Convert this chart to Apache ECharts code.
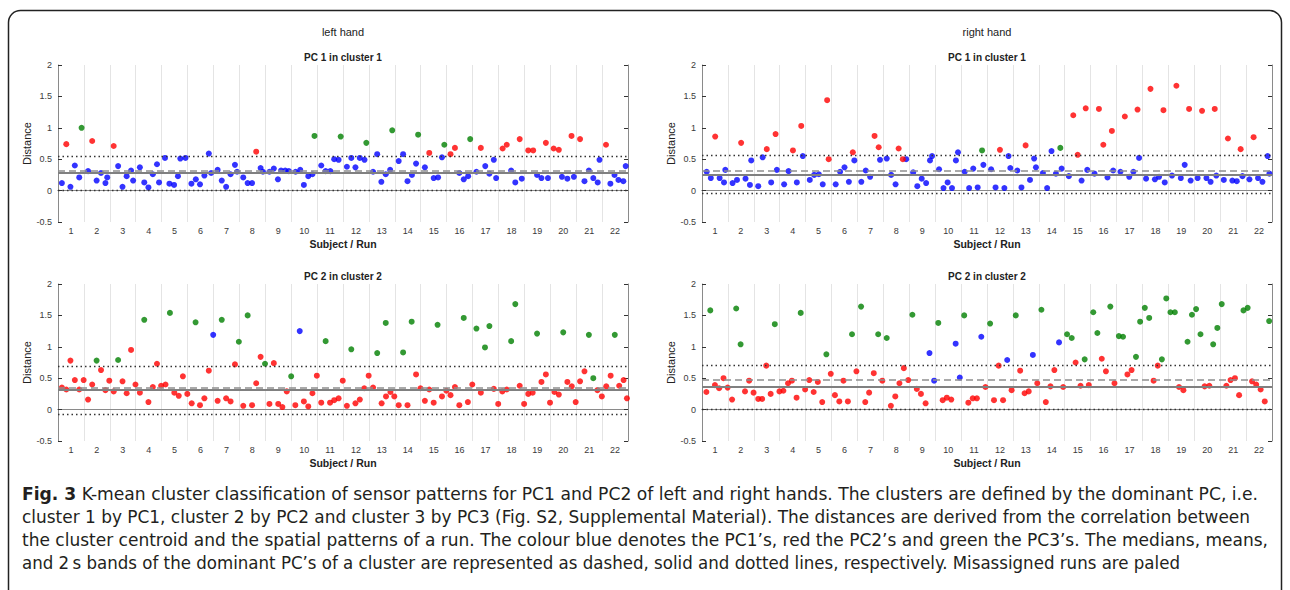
<!DOCTYPE html>
<html><head><meta charset="utf-8">
<script src="https://cdn.jsdelivr.net/npm/echarts@6/dist/echarts.min.js"></script>
<style>
html,body{margin:0;padding:0;background:#fff;}
#wrap{position:relative;width:1290px;height:590px;overflow:hidden;background:#fff;}
#chart{position:absolute;left:0;top:0;width:1290px;height:590px;}
#cap{position:absolute;left:0;top:0;pointer-events:none;}
</style></head><body>
<div id="wrap"><div id="chart"></div><svg id="cap" width="1290" height="590" xmlns="http://www.w3.org/2000/svg"></svg></div>
<script>
// ---------- tick labels ----------
const subjects = ['1','2','3','4','5','6','7','8','9','10','11','12','13','14','15','16','17','18','19','20','21','22'];
const sideTitles = ['left hand', 'right hand'];
const panelTitles = ['PC 1 in cluster 1', 'PC 1 in cluster 1', 'PC 2 in cluster 2', 'PC 2 in cluster 2'];

// ---------- left hand, PC1 in cluster 1 ----------
const lhPC1Blue = [[0.65,0.12],[0.98,0.06],[1.15,0.40],[1.32,0.21],[1.66,0.31],[1.99,0.16],[2.16,0.28],[2.33,0.12],[2.40,0.21],[2.82,0.39],[2.99,0.06],[3.15,0.23],[3.32,0.32],[3.40,0.16],[3.66,0.37],[3.83,0.13],[3.99,0.05],[4.16,0.26],[4.32,0.42],[4.40,0.13],[4.63,0.52],[4.80,0.11],[4.98,0.09],[5.13,0.23],[5.22,0.51],[5.42,0.52],[5.65,0.11],[5.82,0.18],[5.98,0.10],[6.15,0.24],[6.32,0.59],[6.41,0.28],[6.66,0.33],[6.82,0.16],[6.99,0.06],[7.16,0.26],[7.33,0.41],[7.41,0.30],[7.65,0.21],[7.82,0.12],[7.99,0.12],[8.32,0.36],[8.41,0.30],[8.66,0.30],[8.83,0.35],[8.99,0.18],[9.11,0.32],[9.27,0.32],[9.41,0.31],[9.67,0.30],[9.85,0.33],[9.99,0.09],[10.16,0.23],[10.32,0.26],[10.66,0.40],[10.83,0.31],[11.01,0.31],[11.16,0.50],[11.33,0.49],[11.65,0.38],[11.82,0.52],[11.98,0.37],[12.15,0.52],[12.33,0.49],[12.66,0.30],[12.82,0.58],[12.98,0.14],[13.15,0.26],[13.32,0.33],[13.65,0.47],[13.82,0.58],[13.99,0.15],[14.16,0.25],[14.32,0.43],[14.66,0.37],[15.00,0.20],[15.17,0.21],[15.32,0.53],[15.99,0.28],[16.16,0.18],[16.33,0.23],[16.65,0.30],[16.99,0.39],[17.15,0.27],[17.32,0.49],[17.41,0.20],[17.99,0.32],[18.15,0.13],[18.40,0.19],[18.99,0.25],[19.16,0.20],[19.41,0.20],[19.95,0.22],[20.16,0.19],[20.41,0.22],[20.82,0.15],[20.99,0.32],[21.16,0.20],[21.33,0.13],[21.40,0.49],[21.82,0.11],[21.98,0.25],[22.13,0.17],[22.32,0.15],[22.41,0.39]];
const lhPC1Red = [[0.82,0.74],[1.82,0.79],[2.65,0.71],[8.15,0.62],[14.83,0.60],[15.65,0.58],[15.82,0.68],[16.82,0.68],[17.66,0.67],[17.82,0.73],[18.32,0.82],[18.65,0.64],[18.84,0.64],[19.33,0.76],[19.63,0.67],[19.83,0.65],[20.32,0.87],[20.65,0.82],[21.65,0.73]];
const lhPC1Green = [[1.41,1.00],[10.40,0.87],[11.41,0.86],[12.40,0.76],[13.40,0.96],[14.40,0.89],[15.41,0.73],[16.41,0.82]];
const lhPC1Stats = [0.31, 0.28, 0.55, 0.0]; // median, mean, +2s, -2s

// ---------- right hand, PC1 in cluster 1 ----------
const rhPC1Blue = [[0.68,0.30],[0.84,0.20],[1.18,0.20],[1.35,0.13],[1.40,0.33],[1.68,0.12],[1.85,0.17],[2.18,0.19],[2.35,0.09],[2.40,0.48],[2.67,0.07],[2.84,0.53],[3.17,0.13],[3.39,0.33],[3.67,0.10],[3.84,0.31],[4.16,0.13],[4.39,0.55],[4.66,0.17],[4.83,0.25],[5.01,0.26],[5.16,0.10],[5.66,0.10],[5.83,0.30],[6.00,0.37],[6.17,0.14],[6.38,0.48],[6.65,0.14],[6.82,0.32],[6.99,0.22],[7.37,0.49],[7.63,0.51],[7.80,0.25],[7.97,0.10],[8.38,0.50],[8.65,0.29],[8.81,0.07],[8.98,0.19],[9.15,0.12],[9.30,0.48],[9.38,0.55],[9.65,0.34],[9.82,0.04],[9.98,0.13],[10.15,0.04],[10.30,0.48],[10.38,0.61],[10.64,0.30],[10.81,0.04],[10.97,0.35],[11.14,0.05],[11.36,0.41],[11.66,0.34],[11.83,0.05],[12.17,0.04],[12.33,0.55],[12.40,0.36],[12.67,0.32],[12.83,0.05],[13.16,0.17],[13.32,0.51],[13.39,0.37],[13.66,0.28],[13.82,0.04],[13.99,0.63],[14.16,0.27],[14.38,0.35],[14.66,0.23],[15.15,0.16],[15.37,0.33],[15.65,0.27],[16.15,0.21],[16.37,0.32],[16.65,0.30],[16.99,0.22],[17.15,0.30],[17.37,0.52],[17.64,0.19],[17.98,0.18],[18.14,0.22],[18.36,0.13],[18.64,0.24],[18.98,0.20],[19.13,0.41],[19.36,0.16],[19.63,0.20],[19.97,0.20],[20.13,0.14],[20.35,0.24],[20.64,0.17],[20.97,0.16],[21.14,0.15],[21.36,0.23],[21.63,0.18],[21.96,0.20],[22.13,0.14],[22.33,0.55],[22.40,0.27]];
const rhPC1Red = [[1.01,0.86],[2.01,0.76],[3.00,0.66],[3.34,0.90],[4.01,0.64],[4.33,1.03],[5.33,1.44],[5.39,0.50],[6.32,0.61],[7.16,0.87],[7.32,0.69],[8.09,0.67],[8.25,0.50],[12.00,0.65],[12.99,0.72],[14.83,1.20],[15.00,0.57],[15.31,1.31],[15.82,1.30],[15.99,0.73],[16.32,0.95],[16.82,1.18],[17.31,1.29],[17.81,1.62],[18.31,1.28],[18.81,1.67],[19.30,1.30],[19.80,1.27],[20.29,1.30],[20.80,0.83],[21.29,0.66],[21.79,0.85]];
const rhPC1Green = [[11.31,0.64],[14.33,0.68]];
const rhPC1Stats = [0.31, 0.26, 0.56, -0.045];

// ---------- left hand, PC2 in cluster 2 ----------
const lhPC2Blue = [[6.49,1.19],[9.83,1.25]];
const lhPC2Red = [[0.65,0.35],[0.82,0.32],[0.98,0.78],[1.15,0.47],[1.32,0.32],[1.49,0.47],[1.66,0.16],[1.82,0.40],[2.16,0.63],[2.33,0.31],[2.48,0.46],[2.65,0.29],[2.99,0.45],[3.15,0.26],[3.32,0.95],[3.49,0.40],[3.66,0.27],[3.99,0.12],[4.16,0.36],[4.32,0.73],[4.48,0.38],[4.65,0.40],[4.99,0.27],[5.16,0.22],[5.32,0.53],[5.49,0.25],[5.66,0.10],[5.98,0.07],[6.15,0.18],[6.32,0.62],[6.66,0.14],[6.99,0.18],[7.16,0.13],[7.33,0.72],[7.65,0.06],[7.99,0.07],[8.15,0.42],[8.32,0.84],[8.66,0.09],[8.83,0.74],[9.00,0.09],[9.16,0.04],[9.33,0.29],[9.66,0.07],[9.99,0.13],[10.16,0.05],[10.32,0.26],[10.49,0.54],[10.66,0.11],[11.00,0.11],[11.16,0.15],[11.33,0.18],[11.49,0.46],[11.65,0.06],[11.98,0.10],[12.15,0.16],[12.32,0.34],[12.49,0.54],[12.66,0.35],[12.99,0.10],[13.16,0.21],[13.33,0.28],[13.48,0.21],[13.65,0.07],[13.99,0.07],[14.32,0.56],[14.49,0.34],[14.66,0.14],[14.83,0.32],[15.00,0.11],[15.32,0.21],[15.49,0.30],[15.65,0.23],[15.82,0.36],[15.99,0.07],[16.32,0.12],[16.49,0.40],[16.82,0.27],[17.32,0.33],[17.49,0.09],[17.65,0.29],[17.82,0.32],[18.32,0.38],[18.49,0.09],[18.65,0.25],[18.82,0.27],[19.16,0.44],[19.33,0.56],[19.49,0.11],[19.66,0.28],[19.83,0.24],[20.16,0.44],[20.33,0.37],[20.48,0.12],[20.65,0.45],[20.82,0.61],[21.32,0.31],[21.49,0.21],[21.66,0.37],[21.83,0.54],[22.16,0.38],[22.33,0.47],[22.46,0.18]];
const lhPC2Green = [[1.99,0.78],[2.82,0.79],[3.83,1.43],[4.82,1.54],[5.81,1.39],[6.82,1.43],[7.48,1.08],[7.82,1.50],[8.49,0.73],[9.50,0.53],[10.83,1.09],[11.82,0.96],[12.82,0.90],[13.15,1.38],[13.82,0.91],[14.15,1.40],[15.15,1.35],[16.16,1.46],[16.65,1.29],[16.98,0.99],[17.15,1.33],[17.99,1.09],[18.15,1.68],[18.99,1.21],[20.00,1.23],[20.99,1.19],[21.16,0.50],[21.99,1.19]];
const lhPC2Stats = [0.355, 0.315, 0.695, -0.08];

// ---------- right hand, PC2 in cluster 2 ----------
const rhPC2Blue = [[9.28,0.90],[9.46,0.46],[10.29,1.05],[10.45,0.51],[11.28,1.16],[12.28,0.79],[13.27,0.87],[14.28,1.07]];
const rhPC2Red = [[0.67,0.28],[1.00,0.39],[1.16,0.34],[1.33,0.50],[1.49,0.35],[1.66,0.16],[2.16,0.29],[2.32,0.46],[2.49,0.27],[2.67,0.17],[2.82,0.17],[2.98,0.70],[3.15,0.25],[3.49,0.29],[3.64,0.30],[3.82,0.42],[3.97,0.46],[4.15,0.19],[4.48,0.32],[4.64,0.47],[4.81,0.28],[4.97,0.44],[5.14,0.12],[5.47,0.57],[5.63,0.23],[5.80,0.13],[5.96,0.46],[6.13,0.13],[6.46,0.61],[6.80,0.12],[6.95,0.27],[7.13,0.58],[7.46,0.46],[7.79,0.06],[7.96,0.21],[8.12,0.42],[8.29,0.66],[8.46,0.47],[8.79,0.33],[8.95,0.25],[9.13,0.10],[9.79,0.15],[9.95,0.19],[10.12,0.16],[10.78,0.11],[10.95,0.18],[11.11,0.18],[11.44,0.36],[11.77,0.15],[11.95,0.70],[12.12,0.15],[12.45,0.31],[12.78,0.62],[12.95,0.26],[13.11,0.29],[13.44,0.42],[13.77,0.12],[13.95,0.37],[14.10,0.63],[14.44,0.36],[14.92,0.75],[15.11,0.38],[15.43,0.39],[15.93,0.81],[16.09,0.61],[16.42,0.42],[16.92,0.56],[17.08,0.63],[17.93,0.46],[18.09,0.70],[18.91,0.36],[19.08,0.31],[19.90,0.37],[20.08,0.38],[20.74,0.38],[20.90,0.47],[21.07,0.50],[21.23,0.23],[21.73,0.45],[21.89,0.40],[22.06,0.32],[22.22,0.13]];
const rhPC2Green = [[0.82,1.58],[1.82,1.61],[1.99,1.04],[3.31,1.36],[4.31,1.54],[5.30,0.88],[6.29,1.20],[6.64,1.64],[7.30,1.20],[7.63,1.14],[8.62,1.51],[9.62,1.38],[10.62,1.50],[11.62,1.37],[12.61,1.50],[13.60,1.59],[14.59,1.20],[14.77,1.14],[15.27,0.80],[15.60,1.55],[15.76,1.22],[16.26,1.64],[16.59,1.17],[16.75,1.16],[17.25,0.84],[17.41,1.40],[17.59,1.62],[17.76,1.46],[18.25,0.80],[18.42,1.77],[18.58,1.55],[18.75,1.55],[19.24,1.08],[19.41,1.51],[19.57,1.60],[19.74,1.20],[20.23,1.04],[20.39,1.30],[20.56,1.68],[21.40,1.58],[21.56,1.62],[22.39,1.41]];
const rhPC2Stats = [0.47, 0.36, 0.71, 0.0];

// ---------- caption ----------
const captionLines = [
  ['Fig. 3', ' K-mean cluster classification of sensor patterns for PC1 and PC2 of left and right hands. The clusters are defined by the dominant PC, i.e.'],
  ['', 'cluster 1 by PC1, cluster 2 by PC2 and cluster 3 by PC3 (Fig. S2, Supplemental Material). The distances are derived from the correlation between'],
  ['', 'the cluster centroid and the spatial patterns of a run. The colour blue denotes the PC1\u2019s, red the PC2\u2019s and green the PC3\u2019s. The medians, means,'],
  ['', 'and 2\u2009s bands of the dominant PC\u2019s of a cluster are represented as dashed, solid and dotted lines, respectively. Misassigned runs are paled']
];

// ---------- layout ----------
const FONT = '"Liberation Sans", Arial, Helvetica, sans-serif';
const panels = [
  {left:58,  top:65,  w:570, h:157, blue:lhPC1Blue, red:lhPC1Red, green:lhPC1Green, stats:lhPC1Stats, title:panelTitles[0]},
  {left:702, top:65,  w:570, h:157, blue:rhPC1Blue, red:rhPC1Red, green:rhPC1Green, stats:rhPC1Stats, title:panelTitles[1]},
  {left:58,  top:284, w:570, h:157, blue:lhPC2Blue, red:lhPC2Red, green:lhPC2Green, stats:lhPC2Stats, title:panelTitles[2]},
  {left:702, top:284, w:570, h:157, blue:rhPC2Blue, red:rhPC2Red, green:rhPC2Green, stats:rhPC2Stats, title:panelTitles[3]}
];

const grid = [], xAxis = [], yAxis = [], series = [], graphic = [];
const boxColor = '#8a8a8a', tickColor = '#333';
panels.forEach((p, i) => {
  grid.push({left:p.left, top:p.top, width:p.w, height:p.h, containLabel:false});
  xAxis.push({type:'category', gridIndex:i, data:subjects, boundaryGap:true, position:'bottom',
    axisLine:{lineStyle:{color:boxColor, width:1}},
    axisTick:{inside:true, length:4, interval:0, lineStyle:{color:tickColor}},
    axisLabel:{interval:0, fontSize:9, color:'#3a3a3a', margin:4, fontFamily:FONT},
    splitLine:{show:true, interval:0, lineStyle:{color:'#e4e4e4', width:1}},
    name:'Subject / Run', nameLocation:'middle', nameGap:16,
    nameTextStyle:{fontSize:10.5, color:'#222', fontFamily:FONT, fontWeight:'bold'}});
  xAxis.push({type:'category', gridIndex:i, data:subjects, boundaryGap:true, position:'top',
    axisLine:{lineStyle:{color:boxColor, width:1}},
    axisTick:{inside:true, length:4, interval:0, lineStyle:{color:tickColor}},
    axisLabel:{show:false}, splitLine:{show:false}});
  xAxis.push({type:'value', gridIndex:i, min:0.5, max:22.5, show:false});
  yAxis.push({type:'value', gridIndex:i, min:-0.5, max:2, interval:0.5, position:'left',
    axisLine:{show:true, lineStyle:{color:boxColor, width:1}},
    axisTick:{show:true, inside:true, length:4, lineStyle:{color:tickColor}},
    axisLabel:{fontSize:9, color:'#3a3a3a', margin:6, fontFamily:FONT},
    splitLine:{show:false},
    name:'Distance', nameLocation:'middle', nameGap:18,
    nameTextStyle:{fontSize:11, color:'#222', fontFamily:FONT}});
  yAxis.push({type:'value', gridIndex:i, min:-0.5, max:2, interval:0.5, position:'right',
    axisLine:{show:true, lineStyle:{color:boxColor, width:1}},
    axisTick:{show:true, inside:true, length:4, lineStyle:{color:tickColor}},
    axisLabel:{show:false}, splitLine:{show:false}});
  const xi = 3*i + 2, yi = 2*i;
  const [med, mean, hi, lo] = p.stats;
  series.push({type:'line', xAxisIndex:xi, yAxisIndex:yi, data:[], silent:true, z:1, animation:false,
    markLine:{silent:true, symbol:['none','none'], animation:false, label:{show:false},
      data:[
        {yAxis:med,  lineStyle:{type:[7,4], color:'#8f8f8f', width:1.6}},
        {yAxis:mean, lineStyle:{type:'solid', color:'#808080', width:1.8}},
        {yAxis:hi,   lineStyle:{type:[1.5,3], color:'#333', width:1.3}},
        {yAxis:lo,   lineStyle:{type:[1.5,3], color:'#333', width:1.3}}
      ]}});
  [['#0000ff', p.blue], ['#ff0000', p.red], ['#008000', p.green]].forEach(([c, d]) => {
    series.push({type:'scatter', xAxisIndex:xi, yAxisIndex:yi, data:d, symbol:'circle', symbolSize:6,
      itemStyle:{color:c}, z:3, animation:false, silent:true});
  });
  graphic.push({type:'text', x:p.left + p.w/2, y:p.top - 8, silent:true,
    style:{text:p.title, fontSize:10, fontWeight:'bold', fill:'#222', font:'bold 10px ' + FONT,
      textAlign:'center', textVerticalAlign:'middle'}});
});
graphic.push({type:'text', x:343, y:32, silent:true, style:{text:sideTitles[0], font:'11px ' + FONT, fill:'#222', textAlign:'center', textVerticalAlign:'middle'}});
graphic.push({type:'text', x:987, y:32, silent:true, style:{text:sideTitles[1], font:'11px ' + FONT, fill:'#222', textAlign:'center', textVerticalAlign:'middle'}});
graphic.push({type:'rect', silent:true, z:-1, shape:{x:8.5, y:10.5, width:1273, height:640, r:12},
  style:{fill:'none', stroke:'#222', lineWidth:1.5}});

const chart = echarts.init(document.getElementById('chart'), null, {renderer:'svg'});
chart.setOption({animation:false, backgroundColor:'#fff', grid, xAxis, yAxis, series, graphic});

// caption as real SVG text
const capSvg = document.getElementById('cap');
const NS = 'http://www.w3.org/2000/svg';
const capY = [500, 523, 546, 569];
const capW = [1236, 1228, 1246, 1158];
captionLines.forEach((ln, k) => {
  const t = document.createElementNS(NS, 'text');
  t.setAttribute('x', 22); t.setAttribute('y', capY[k]);
  t.setAttribute('font-family', '"Liberation Sans Narrow", "DejaVu Sans Condensed", "Liberation Sans", sans-serif');
  t.setAttribute('font-size', '18');
  t.setAttribute('fill', '#231f20');
  t.setAttribute('textLength', capW[k]);
  t.setAttribute('lengthAdjust', 'spacingAndGlyphs');
  if (ln[0]) {
    const b = document.createElementNS(NS, 'tspan');
    b.setAttribute('font-weight', 'bold'); b.textContent = ln[0]; t.appendChild(b);
  }
  const r = document.createElementNS(NS, 'tspan'); r.textContent = ln[1]; t.appendChild(r);
  capSvg.appendChild(t);
});
</script></body></html>
